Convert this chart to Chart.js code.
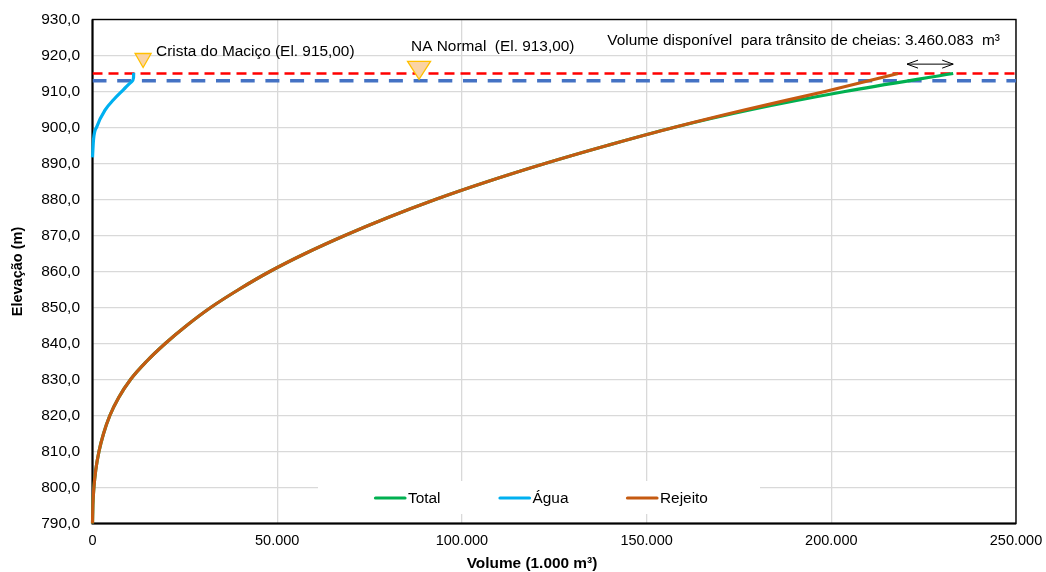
<!DOCTYPE html>
<html>
<head>
<meta charset="utf-8">
<script src="https://cdn.jsdelivr.net/npm/chart.js@4.4.1/dist/chart.umd.min.js"></script>
<style>
  html, body { margin: 0; padding: 0; background: #ffffff; }
  canvas { display: block; }
</style>
</head>
<body>
<canvas id="chart" width="1046" height="572"></canvas>
<script>
// Curva cota x volume do reservatório (volumes em 1.000 m³)
const seriesNames = ['Total', 'Água', 'Rejeito'];

const rejeitoElev = [790, 795, 800, 805, 810, 815, 820, 825, 830, 835, 840, 845, 850, 855, 860, 865, 870, 875, 880, 885, 890, 895, 900, 905, 910, 915];
const rejeitoVol  = [0, 100, 380, 900, 1750, 3000, 4700, 7100, 10300, 14600, 19700, 25500, 32000, 39600, 48000, 57600, 68300, 80000, 92800, 107000, 122500, 139300, 157300, 177000, 198300, 218100];

const totalElev = [790, 795, 800, 805, 810, 815, 820, 825, 830, 835, 840, 845, 850, 855, 860, 865, 870, 875, 880, 885, 890, 895, 900, 905, 910, 915];
const totalVol  = [0, 100, 380, 900, 1750, 3000, 4700, 7100, 10300, 14600, 19700, 25500, 32000, 39600, 48000, 57600, 68300, 80000, 92800, 107000, 122500, 139300, 157300, 178500, 203700, 233000];

const aguaElev = [891.7, 896.6, 900.3, 904.9, 907.7, 910.5, 912.8, 913.8, 915.2];
const aguaVol  = [0, 270, 1190, 3440, 5690, 8390, 10670, 11100, 11150];

// Níveis de referência (m)
const crestElev = 915.0;
const naNormalElev = 913.0;

// Eixos
const xMin = 0, xMax = 250000, xStep = 50000;
const yMin = 790, yMax = 930, yStep = 10;

// Marcadores e textos de anotação
const crestMarkerVol = 13700;
const naMarkerVol = 88400;
const floodArrowVol = [220500, 233000];
const floodArrowElev = 917.6;
const crestLabel = 'Crista do Maciço (El. 915,00)';
const naLabel = 'NA Normal  (El. 913,00)';
const floodLabel = 'Volume disponível  para trânsito de cheias: 3.460.083  m³';
const xTitle = 'Volume (1.000 m³)';
const yTitle = 'Elevação (m)';

const FONT = '"Liberation Sans", Arial, sans-serif';
const colors = { total: '#00B050', agua: '#00B0F0', rejeito: '#C55A11', crest: '#FF0000', na: '#4472C4' };

const pts = (xs, ys) => xs.map((x, i) => ({ x: x, y: ys[i] }));
const fmtThousands = v => v === 0 ? '0' : v.toLocaleString('de-DE');

const overlay = {
  id: 'overlay',
  beforeDatasetsDraw(chart) {
    const { ctx, chartArea: a } = chart;
    ctx.save();
    // legend background over the grid
    ctx.fillStyle = '#ffffff';
    ctx.fillRect(318, 481, 442, 33);
    // plot frame
    ctx.strokeStyle = '#000000';
    ctx.lineWidth = 1.4;
    ctx.strokeRect(a.left, a.top, a.right - a.left, a.bottom - a.top);
    ctx.lineWidth = 2;
    ctx.beginPath();
    ctx.moveTo(a.left, a.top); ctx.lineTo(a.left, a.bottom); ctx.lineTo(a.right, a.bottom);
    ctx.stroke();
    ctx.restore();
  },
  afterDatasetsDraw(chart) {
    const { ctx, chartArea: a } = chart;
    const xs = chart.scales.x, ys = chart.scales.y;
    ctx.save();

    // downward triangles marking the levels
    const tri = (cx, tipY, hw, h) => {
      ctx.beginPath();
      ctx.moveTo(cx, tipY);
      ctx.lineTo(cx - hw, tipY - h);
      ctx.lineTo(cx + hw, tipY - h);
      ctx.closePath();
      ctx.fillStyle = '#FAD3A4';
      ctx.fill();
      ctx.strokeStyle = '#FFC000';
      ctx.lineWidth = 1.3;
      ctx.stroke();
    };
    const crestX = xs.getPixelForValue(crestMarkerVol);
    const crestTip = ys.getPixelForValue(crestElev) - 6;
    tri(crestX, crestTip, 8, 14);
    const naX = xs.getPixelForValue(naMarkerVol);
    const naTip = ys.getPixelForValue(naNormalElev) - 1.3;
    tri(naX, naTip, 11.5, 18);

    // labels
    ctx.fillStyle = '#000000';
    ctx.font = '15.4px ' + FONT;
    ctx.textBaseline = 'alphabetic';
    ctx.textAlign = 'left';
    ctx.fillText(crestLabel, crestX + 13, 56);
    ctx.fillText(naLabel, naX - 8, 51);
    ctx.textAlign = 'right';
    ctx.fillText(floodLabel, a.right - 16, 45);

    // double-headed arrow for the flood volume
    const ax1 = xs.getPixelForValue(floodArrowVol[0]);
    const ax2 = xs.getPixelForValue(floodArrowVol[1]);
    const ay = ys.getPixelForValue(floodArrowElev);
    ctx.strokeStyle = '#000000';
    ctx.lineWidth = 1;
    ctx.beginPath();
    ctx.moveTo(ax1, ay); ctx.lineTo(ax2, ay);
    ctx.moveTo(ax1 + 11, ay - 4); ctx.lineTo(ax1, ay); ctx.lineTo(ax1 + 11, ay + 4);
    ctx.moveTo(ax2 - 11, ay - 4); ctx.lineTo(ax2, ay); ctx.lineTo(ax2 - 11, ay + 4);
    ctx.stroke();

    // axis titles
    ctx.fillStyle = '#000000';
    ctx.font = 'bold 15.4px ' + FONT;
    ctx.textAlign = 'center';
    ctx.textBaseline = 'middle';
    ctx.fillText(xTitle, 532, 564);
    ctx.save();
    ctx.translate(18, (a.top + a.bottom) / 2);
    ctx.rotate(-Math.PI / 2);
    ctx.font = 'bold 14.5px ' + FONT;
    ctx.fillText(yTitle, 0, 0);
    ctx.restore();

    // legend
    const legendX = [374, 498.5, 626];
    const legendY = 498;
    const legendSets = [0, 1, 2].map(i => chart.data.datasets[i]);
    ctx.textAlign = 'left';
    ctx.textBaseline = 'middle';
    ctx.font = '15.4px ' + FONT;
    legendSets.forEach((ds, i) => {
      ctx.strokeStyle = ds.borderColor;
      ctx.lineWidth = 3.2;
      ctx.lineCap = 'round';
      ctx.beginPath();
      ctx.moveTo(legendX[i] + 1.5, legendY);
      ctx.lineTo(legendX[i] + 31, legendY);
      ctx.stroke();
      ctx.fillStyle = '#000000';
      ctx.fillText(ds.label, legendX[i] + 34, legendY + 1);
    });
    ctx.restore();
  }
};

new Chart(document.getElementById('chart'), {
  type: 'scatter',
  data: {
    datasets: [
      { label: seriesNames[0], data: pts(totalVol, totalElev), borderColor: colors.total, backgroundColor: colors.total,
        showLine: true, borderWidth: 3.2, pointRadius: 0, cubicInterpolationMode: 'monotone', order: 3, clip: 5 },
      { label: seriesNames[1], data: pts(aguaVol, aguaElev), borderColor: colors.agua, backgroundColor: colors.agua,
        showLine: true, borderWidth: 3.2, pointRadius: 0, cubicInterpolationMode: 'monotone', order: 2, clip: 5 },
      { label: seriesNames[2], data: pts(rejeitoVol, rejeitoElev), borderColor: colors.rejeito, backgroundColor: colors.rejeito,
        showLine: true, borderWidth: 3.2, pointRadius: 0, cubicInterpolationMode: 'monotone', order: 1, clip: 5 },
      { label: 'Crista', data: [{ x: xMin, y: crestElev }, { x: xMax, y: crestElev }], borderColor: colors.crest,
        showLine: true, borderWidth: 2.6, borderDash: [10, 6], pointRadius: 0, order: 4 },
      { label: 'NA Normal', data: [{ x: xMin, y: naNormalElev }, { x: xMax, y: naNormalElev }], borderColor: colors.na,
        showLine: true, borderWidth: 3.6, borderDash: [14, 10.7], pointRadius: 0, order: 5 }
    ]
  },
  options: {
    responsive: false,
    animation: false,
    devicePixelRatio: 1,
    layout: { padding: { top: 19.5, right: 30, left: 0, bottom: 0 } },
    plugins: { legend: { display: false }, tooltip: { enabled: false } },
    scales: {
      x: {
        type: 'linear', min: xMin, max: xMax,
        afterFit: s => { s.height = 48.5; s.paddingLeft = 0; s.paddingRight = 0; },
        border: { display: false },
        grid: { color: '#D9D9D9', lineWidth: 1.3, drawTicks: false },
        ticks: { stepSize: xStep, padding: 9, color: '#000000', font: { family: FONT, size: 14.5 },
                 maxRotation: 0, callback: v => fmtThousands(v) },
        title: { display: false }
      },
      y: {
        type: 'linear', min: yMin, max: yMax,
        afterFit: s => { s.width = 92.5; s.paddingTop = 0; s.paddingBottom = 0; },
        border: { display: false },
        grid: { color: '#D9D9D9', lineWidth: 1.3, drawTicks: false },
        ticks: { stepSize: yStep, padding: 12.5, color: '#000000', font: { family: FONT, size: 15.5 },
                 callback: v => v.toFixed(1).replace('.', ',') },
        title: { display: false }
      }
    }
  },
  plugins: [overlay]
});
</script>
</body>
</html>
